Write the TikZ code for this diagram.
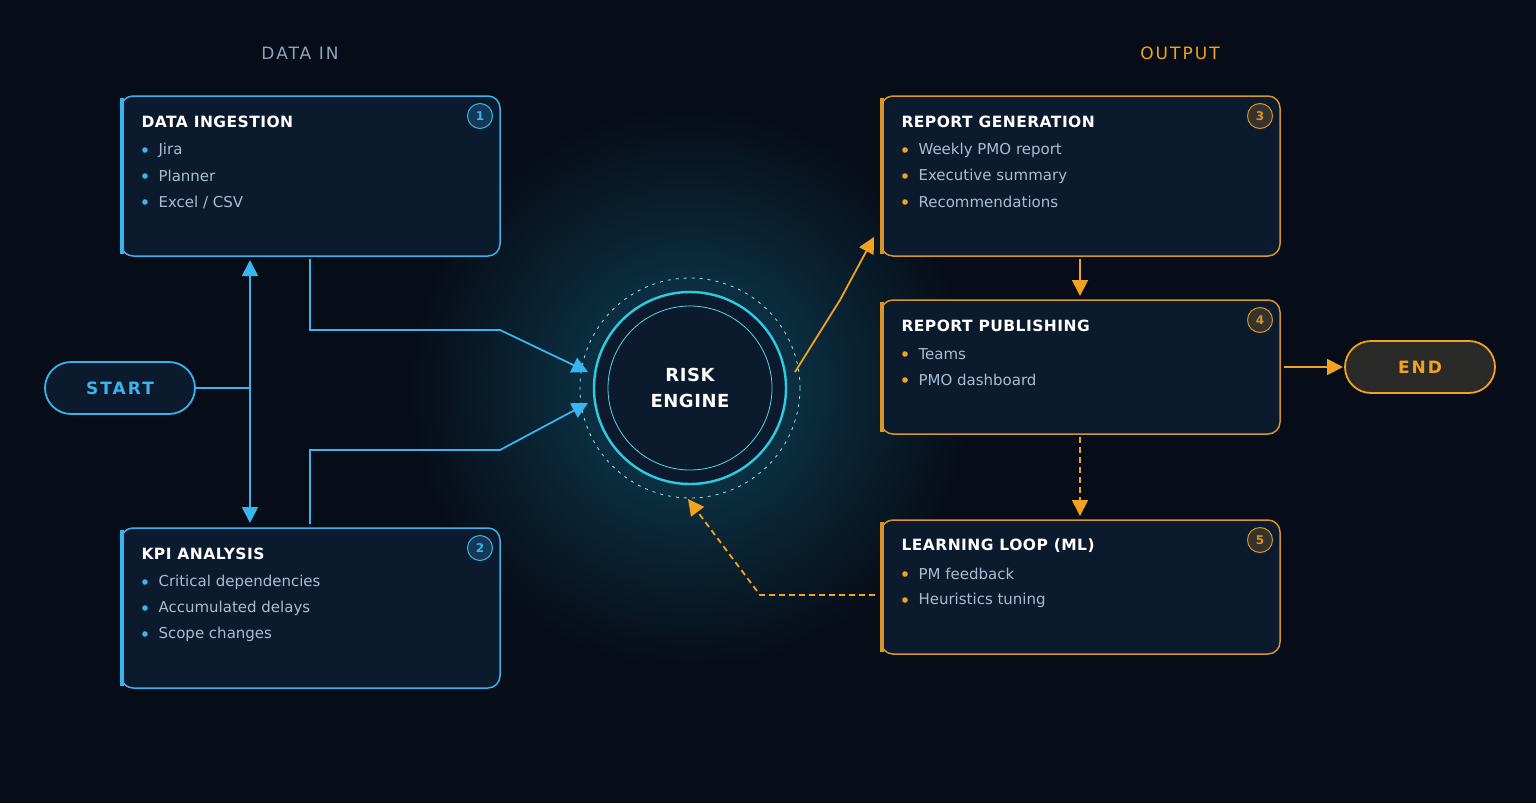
\documentclass[tikz,border=0pt]{standalone}
\usepackage{fontspec}
\setmainfont{DejaVu Sans}
\newfontfamily\spaced[LetterSpace=12]{DejaVu Sans}
\newfontfamily\spacedb[LetterSpace=3]{DejaVu Sans}
\usetikzlibrary{arrows.meta}
\definecolor{bg}{HTML}{070D18}
\definecolor{boxfill}{HTML}{0C1A2E}
\definecolor{cblue}{HTML}{38B4EE}
\definecolor{corange}{HTML}{F2A21E}
\definecolor{oborder}{HTML}{D8952A}
\definecolor{ccyan}{HTML}{2CCBE2}
\definecolor{itemtxt}{HTML}{A8BDD3}
\definecolor{hdr}{HTML}{8FA3B8}
\definecolor{glow}{HTML}{0D4258}
\definecolor{endfill}{HTML}{2A2A28}
\begin{document}
\begin{tikzpicture}[x=1pt,y=-1pt,
  box/.style={draw=#1,line width=1.5pt,rounded corners=12pt,fill=boxfill},
  title/.style={anchor=west,text=white,font=\spacedb\bfseries\fontsize{15.5}{18}\selectfont},
  item/.style={anchor=west,text=itemtxt,font=\fontsize{15}{17}\selectfont},
  badge/.style={circle,draw=#1,fill=#1!20!boxfill,line width=1pt,minimum size=25pt,inner sep=0pt,text=#1,font=\bfseries\fontsize{12}{12}\selectfont},
  conn/.style={draw=#1,line width=1.8pt,-{Triangle[length=16pt,width=16pt]}},
  pill/.style={rounded corners=26pt,line width=1.8pt,minimum width=150pt,minimum height=52pt,font=\spaced\bfseries\fontsize{17}{20}\selectfont}]
\useasboundingbox (0,0) rectangle (1536,803);
\fill[bg] (0,0) rectangle (1536,803);
\shade[inner color=glow,outer color=bg] (690,388) circle (280);
\node[text=hdr,font=\spaced\fontsize{17}{20}\selectfont] (hin) at (300,53) {DATA IN};
\node[text=corange,font=\spaced\fontsize{17}{20}\selectfont] (hout) at (1180,53) {OUTPUT};
\newcommand{\mybox}[8]{%
  \path[box=#6] (#2,#3) rectangle (#4,#5);
  \coordinate (#1) at ({(#2+#4)/2},{(#3+#5)/2});
  \draw[#6,line width=3.5pt] (#2+1,#3+2) -- (#2+1,#5-2);
  \node[badge=#6] (#1b) at (#4-20,#3+20) {#7};
  \node[title] (#1t) at (#2+17,#3+26) {#8};}
\newcommand{\myitem}[5]{%
  \fill[#4] (#2+24,#3) circle (2.8);
  \node[item] (#1) at (#2+34,#3) {#5};}
\mybox{b1}{121}{96}{500}{256}{cblue}{1}{DATA INGESTION}
\myitem{b1i1}{121}{150}{cblue}{Jira}
\myitem{b1i2}{121}{176}{cblue}{Planner}
\myitem{b1i3}{121}{202}{cblue}{Excel / CSV}
\mybox{b2}{121}{528}{500}{688}{cblue}{2}{KPI ANALYSIS}
\myitem{b2i1}{121}{582}{cblue}{Critical dependencies}
\myitem{b2i2}{121}{608}{cblue}{Accumulated delays}
\myitem{b2i3}{121}{634}{cblue}{Scope changes}
\mybox{b3}{881}{96}{1280}{256}{oborder}{3}{REPORT GENERATION}
\myitem{b3i1}{881}{150}{corange}{Weekly PMO report}
\myitem{b3i2}{881}{176}{corange}{Executive summary}
\myitem{b3i3}{881}{202}{corange}{Recommendations}
\mybox{b4}{881}{300}{1280}{434}{oborder}{4}{REPORT PUBLISHING}
\myitem{b4i1}{881}{354}{corange}{Teams}
\myitem{b4i2}{881}{380}{corange}{PMO dashboard}
\mybox{b5}{881}{520}{1280}{654}{oborder}{5}{LEARNING LOOP (ML)}
\myitem{b5i1}{881}{574}{corange}{PM feedback}
\myitem{b5i2}{881}{600}{corange}{Heuristics tuning}
\node[pill,draw=cblue,fill=boxfill,text=cblue] (start) at (120,388) {START};
\node[pill,draw=corange,fill=endfill,text=corange] (end) at (1420,367) {END};
\draw[ccyan!50,line width=0.8pt,dash pattern=on 3pt off 5pt] (690,388) circle (110);
\node[circle,draw=ccyan,line width=2.4pt,fill=boxfill,minimum size=192pt] (eng) at (690,388) {};
\draw[ccyan!80,line width=0.8pt] (eng) circle (82);
\node[text=white,align=center,font=\spacedb\bfseries\fontsize{18}{26}\selectfont] (engt) at (eng) {RISK\\ENGINE};
\coordinate (j) at (250,388);
\coordinate (j1) at (250,260);
\coordinate (j2) at (250,523);
\coordinate (e1) at (588,372);
\coordinate (e2) at (588,403);
\draw[cblue,line width=1.8pt] (start.east) -- (j);
\draw[conn=cblue] (j) -- (j1);
\draw[conn=cblue] (j) -- (j2);
\draw[conn=cblue] (310,259) -- (310,330) -- (500,330) -- (e1);
\draw[conn=cblue] (310,524) -- (310,450) -- (500,450) -- (e2);
\coordinate (o1) at (795,372);
\coordinate (o2) at (874,237);
\coordinate (eo) at (1343,367);
\draw[conn=corange] (o1) -- (840,300) -- (o2);
\draw[conn=corange] (1080,259) -- (1080,296);
\draw[conn=corange] (1284,367) -- (eo);
\draw[conn=corange,dash pattern=on 6pt off 4pt] (1080,437) -- (1080,516);
\coordinate (e3) at (688,499);
\draw[conn=corange,dash pattern=on 6pt off 4pt] (875,595) -- (760,595) -- (e3);
\end{tikzpicture}
\end{document}
